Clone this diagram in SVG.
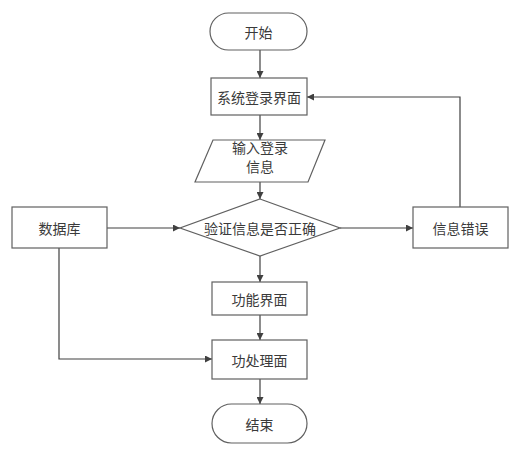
<svg xmlns="http://www.w3.org/2000/svg" width="515" height="449" viewBox="0 0 515 449">
<defs>
<marker id="arr" viewBox="0 0 10 10" refX="10" refY="5" markerWidth="7" markerHeight="7" markerUnits="userSpaceOnUse" orient="auto">
<path d="M0,0 L10,5 L0,10 Z" fill="#404040"/>
</marker>
<style>
.shape{fill:#ffffff;stroke:#606060;stroke-width:1.2}
.conn{fill:none;stroke:#404040;stroke-width:1.2;marker-end:url(#arr)}
text{font-family:"Noto Sans CJK SC","Noto Sans",sans-serif;font-size:14px;fill:#3a3a3a;text-anchor:middle;dominant-baseline:central}
</style>
</defs>
<rect width="515" height="449" fill="#ffffff"/>
<g id="connectors">
<path class="conn" d="M260,50 L260,78"/>
<path class="conn" d="M260,115 L260,140"/>
<path class="conn" d="M260,182 L260,199"/>
<path class="conn" d="M107,228 L180,228"/>
<path class="conn" d="M340,228 L413,228"/>
<path class="conn" d="M460,207 L460,97 L307,97"/>
<path class="conn" d="M260,256 L260,282"/>
<path class="conn" d="M260,315 L260,340"/>
<path class="conn" d="M59,248 L59,359 L212,359"/>
<path class="conn" d="M260,379 L260,404"/>
</g>
<g id="start">
<rect class="shape" x="210" y="13" width="97" height="37" rx="18.5"/>
<text x="258.5" y="31.5">开始</text>
</g>
<g id="login">
<rect class="shape" x="211" y="78" width="96" height="37"/>
<text x="259" y="96.5">系统登录界面</text>
</g>
<g id="input">
<polygon class="shape" points="213,140 325,140 308,182 195,182"/>
<text x="260" y="147">输入登录</text>
<text x="260" y="166">信息</text>
</g>
<g id="verify">
<polygon class="shape" points="260,199 340,228 260,256 180,228"/>
<text x="260" y="228">验证信息是否正确</text>
</g>
<g id="database">
<rect class="shape" x="12" y="207" width="95" height="41"/>
<text x="59.5" y="227.5">数据库</text>
</g>
<g id="error">
<rect class="shape" x="413" y="207" width="95" height="41"/>
<text x="460.5" y="227.5">信息错误</text>
</g>
<g id="function">
<rect class="shape" x="212" y="282" width="95" height="33"/>
<text x="259.5" y="298.5">功能界面</text>
</g>
<g id="process">
<rect class="shape" x="212" y="340" width="95" height="39"/>
<text x="259.5" y="359.5">功处理面</text>
</g>
<g id="end">
<rect class="shape" x="212" y="404" width="95" height="39" rx="19.5"/>
<text x="259.5" y="423.5">结束</text>
</g>
</svg>
